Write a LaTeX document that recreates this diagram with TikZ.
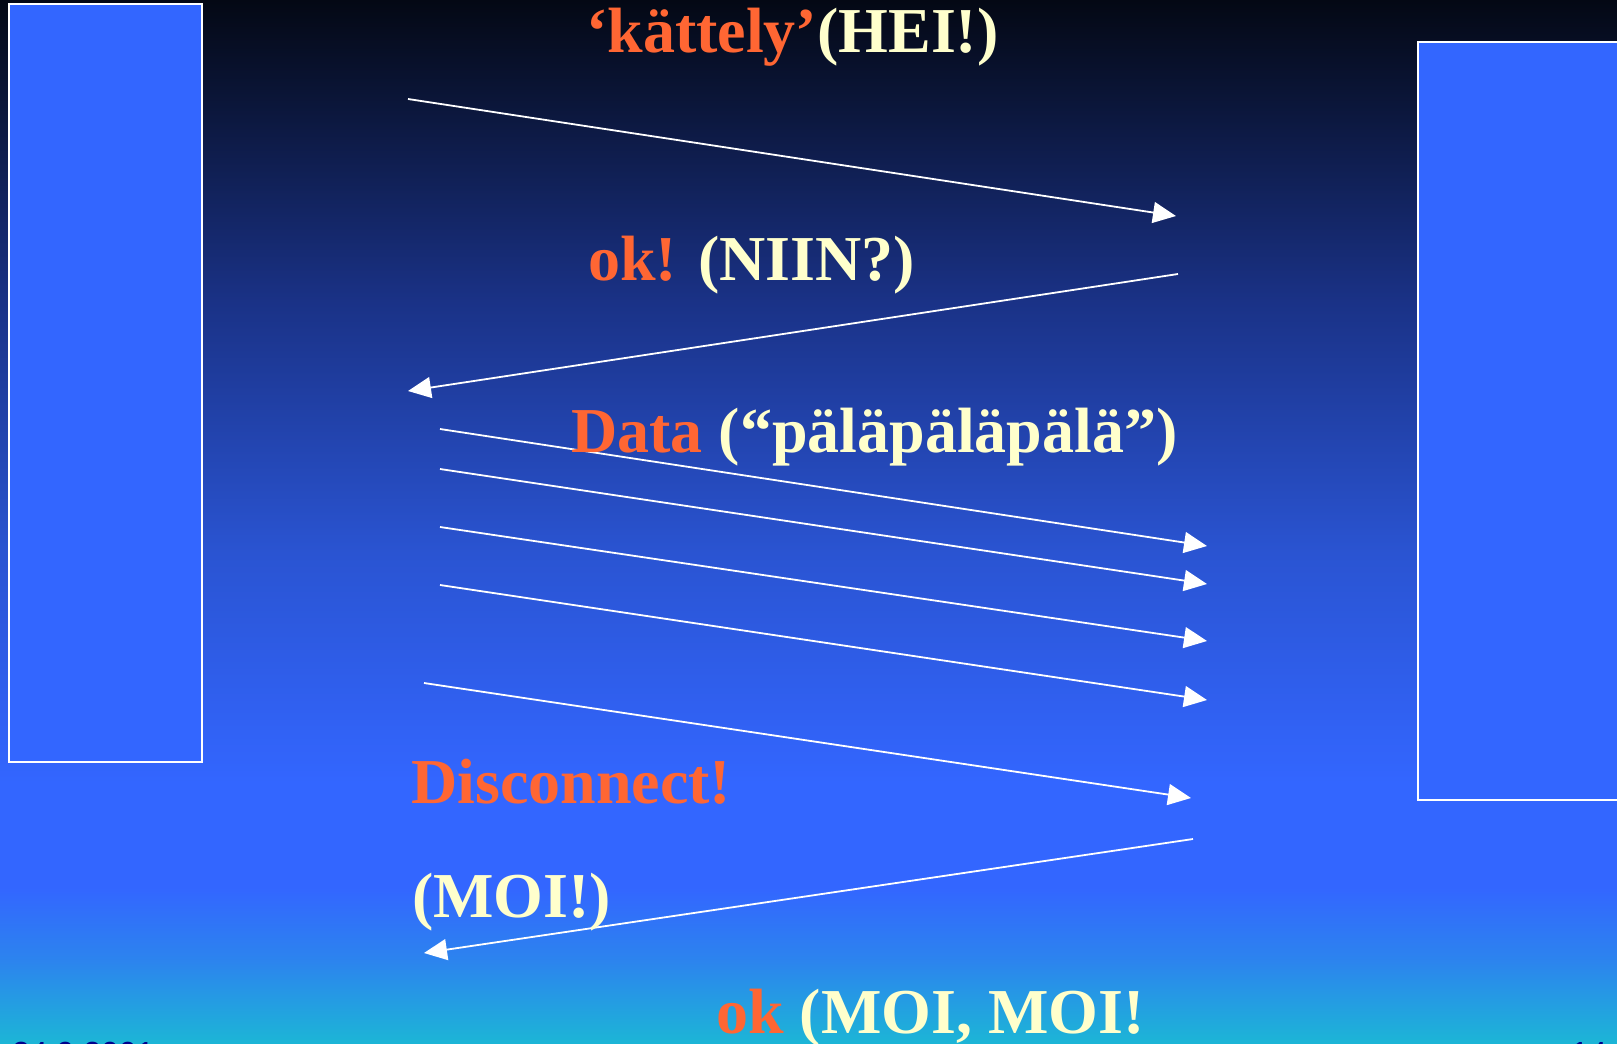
\documentclass[tikz,border=0pt]{standalone}
\usepackage{fontspec}
\setmainfont{Liberation Serif}
\newfontfamily\footfont{Liberation Sans}
\usepackage{xcolor}
\usepackage{tikz}
\usetikzlibrary{arrows.meta}

% slide colours
\definecolor{bgtop}{RGB}{4,8,20}
\definecolor{bgdark}{RGB}{11,22,58}
\definecolor{bgdeep}{RGB}{26,50,135}
\definecolor{bgmid}{RGB}{42,84,210}
\definecolor{bgblue}{RGB}{51,102,255}
\definecolor{bgmix}{RGB}{44,132,238}
\definecolor{bgcyan}{RGB}{28,182,214}
\definecolor{hostblue}{RGB}{51,102,255}
\definecolor{say}{RGB}{255,102,51}
\definecolor{cream}{RGB}{255,255,204}
\definecolor{footblue}{RGB}{0,0,140}

% 25bp = bottom of the slide, 75bp = top
\pgfdeclareverticalshading{slidebg}{100bp}{color(0bp)=(bgcyan); color(25bp)=(bgcyan);
  color(29bp)=(bgmix); color(32.5bp)=(bgblue); color(37.5bp)=(bgblue);
  color(48.5bp)=(bgmid); color(60.5bp)=(bgdeep); color(70bp)=(bgdark);
  color(75bp)=(bgtop); color(100bp)=(bgtop)}

\begin{document}
\begin{tikzpicture}[
    x=1pt, y=-1pt,
    host/.style={rectangle, draw=white, line width=2pt, fill=hostblue, anchor=north west, inner sep=0pt},
    msg/.style={anchor=base west, inner sep=0pt, text=cream, font=\fontsize{64}{72}\selectfont\bfseries},
    foot/.style={anchor=base west, inner sep=0pt, text=footblue, font=\footfont\fontsize{32}{36}\selectfont},
    arrow/.style={-{Triangle[length=23pt,width=21pt]}, draw=white, line width=1.8pt}
]

\useasboundingbox (0,0) rectangle (1617,1044);
\clip (0,0) rectangle (1617,1044);
\fill[shading=slidebg] (0,0) rectangle (1617,1044);

% the two hosts
\node[host, minimum width=193pt, minimum height=758pt] (client) at (8,3) {};
\node[host, minimum width=240pt, minimum height=758pt] (server) at (1417,41) {};

% end points of the messages
\coordinate (m1a) at (408,99);   \coordinate (m1b) at (1176,216);
\coordinate (m2a) at (1178,274); \coordinate (m2b) at (408,391);
\coordinate (d1a) at (440,429);  \coordinate (d1b) at (1207,546);
\coordinate (d2a) at (440,469);  \coordinate (d2b) at (1207,584);
\coordinate (d3a) at (440,527);  \coordinate (d3b) at (1207,641);
\coordinate (d4a) at (440,585);  \coordinate (d4b) at (1207,700);
\coordinate (m3a) at (424,683);  \coordinate (m3b) at (1191,798);
\coordinate (m4a) at (1193,839); \coordinate (m4b) at (424,953);

% Messages
\draw[arrow] (m1a) -- (m1b);
\draw[arrow] (m2a) -- (m2b);
\draw[arrow] (d1a) -- (d1b);
\draw[arrow] (d2a) -- (d2b);
\draw[arrow] (d3a) -- (d3b);
\draw[arrow] (d4a) -- (d4b);
\draw[arrow] (m3a) -- (m3b);
\draw[arrow] (m4a) -- (m4b);

% Labels
\node[msg] (hei) at (586,52) {\textcolor{say}{‘kättely’}(HEI!)};
\node[msg] (niin) at (588,280) {\textcolor{say}{ok!} (NIIN?)};
\node[msg] (data) at (571,452) {\textcolor{say}{Data} (“päläpäläpälä”)};
\node[msg, text=say] (disc) at (411,803) {Disconnect!};
\node[msg] (moi) at (412,917) {(MOI!)};
\node[msg] (moimoi) at (716,1033) {\textcolor{say}{ok} (MOI, MOI!};

% footer
\node[foot] (date) at (12,1064) {24.9.2001};
\node[foot] (page) at (1571,1064) {14};

\end{tikzpicture}
\end{document}
